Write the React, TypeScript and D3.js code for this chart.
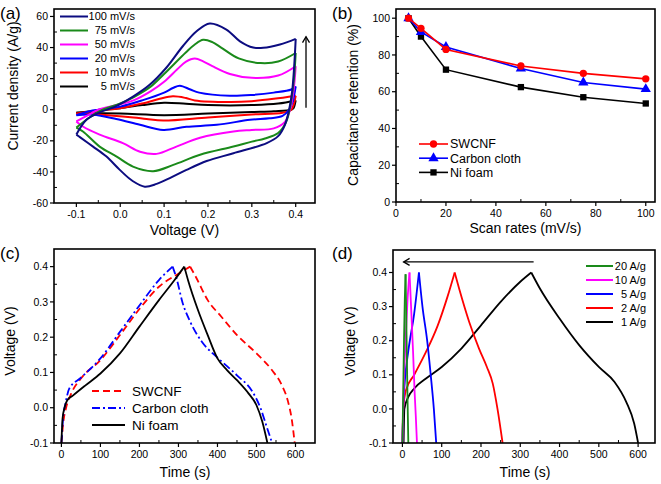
import React from "react";
import * as d3 from "d3";

type Pt = [number, number];
const FONT = "'Liberation Sans', Arial, sans-serif";

// ---------- Panel (a): CV curves ----------
const cvRates = ["100 mV/s", "75 mV/s", "50 mV/s", "20 mV/s", "10 mV/s", "5 mV/s"];
const cv100Anodic: Pt[] = [[-0.1, -16], [-0.077, -6.5], [-0.047, -1.7], [-0.012, 2], [0.03, 8.6], [0.067, 16], [0.105, 27], [0.143, 41], [0.174, 50.5], [0.204, 55.5], [0.242, 51.6], [0.273, 44], [0.303, 40], [0.326, 39.8], [0.364, 42], [0.4, 45.6]];
const cv100Cathodic: Pt[] = [[0.4, 45.6], [0.397, 30], [0.392, 12], [0.385, 0], [0.375, -10], [0.36, -17], [0.334, -21.5], [0.258, -28], [0.197, -33], [0.151, -38.7], [0.113, -44], [0.083, -47.7], [0.056, -49.5], [0.029, -46], [-0.001, -38.7], [-0.032, -30], [-0.062, -23.7], [-0.092, -17.6], [-0.1, -16]];
const cv75Anodic: Pt[] = [[-0.1, -11.5], [-0.07, -5], [-0.04, 0], [0.0, 4], [0.03, 8], [0.07, 15], [0.1, 23], [0.15, 37], [0.17, 42], [0.189, 45], [0.21, 43.5], [0.23, 40], [0.27, 33], [0.32, 30], [0.36, 31], [0.4, 36.5]];
const cv75Cathodic: Pt[] = [[0.4, 36.5], [0.396, 20], [0.388, 3], [0.378, -8], [0.36, -15], [0.33, -18.5], [0.3, -20.5], [0.258, -23.7], [0.182, -29], [0.121, -35.5], [0.075, -39.5], [0.029, -36.6], [-0.009, -30], [-0.047, -23.7], [-0.085, -14], [-0.1, -11.5]];
const cv50Anodic: Pt[] = [[-0.1, -7.5], [-0.07, -3], [-0.05, 0], [0.0, 3.5], [0.03, 6], [0.07, 12], [0.1, 18], [0.13, 26], [0.15, 31], [0.17, 33], [0.19, 31], [0.21, 28], [0.25, 23], [0.3, 20.5], [0.36, 22], [0.4, 28]];
const cv50Cathodic: Pt[] = [[0.4, 28], [0.395, 12], [0.387, 0], [0.375, -8], [0.35, -12], [0.3, -13], [0.258, -14], [0.182, -18], [0.128, -23.7], [0.083, -28.4], [0.045, -27], [0.006, -21.5], [-0.047, -16], [-0.085, -10.8], [-0.1, -7.5]];
const cv20Anodic: Pt[] = [[-0.1, -3.5], [-0.07, -1], [-0.05, 0], [0.0, 2], [0.05, 6], [0.1, 11], [0.12, 14], [0.136, 15.5], [0.16, 13], [0.18, 11], [0.25, 9], [0.3, 9.5], [0.35, 11], [0.39, 13], [0.4, 15]];
const cv20Cathodic: Pt[] = [[0.4, 15], [0.393, 5], [0.385, 0], [0.37, -4], [0.34, -5.5], [0.296, -6.5], [0.22, -9.7], [0.151, -11], [0.098, -13], [0.045, -9.7], [-0.009, -6], [-0.062, -3.2], [-0.1, -3.5]];
const cv10Anodic: Pt[] = [[-0.1, -2.5], [-0.05, -0.5], [0.0, 1], [0.05, 4], [0.09, 7], [0.12, 8.6], [0.15, 7.5], [0.17, 6], [0.25, 5], [0.3, 5.5], [0.35, 7], [0.4, 9]];
const cv10Cathodic: Pt[] = [[0.4, 9], [0.395, 3], [0.39, 0], [0.37, -2], [0.3, -3], [0.2, -5], [0.098, -7], [0.06, -6], [0.03, -5], [-0.05, -3], [-0.1, -2.5]];
const cv5Anodic: Pt[] = [[-0.1, -2], [-0.05, -0.5], [0.0, 1], [0.05, 3], [0.1, 4.5], [0.15, 3.8], [0.2, 3], [0.3, 3], [0.36, 4], [0.4, 6]];
const cv5Cathodic: Pt[] = [[0.4, 6], [0.395, 1], [0.39, 0], [0.35, -1], [0.3, -1.5], [0.2, -2.5], [0.1, -3.5], [0.0, -2.5], [-0.1, -2]];
const cvSeries: Pt[][][] = [
  [cv100Anodic, cv100Cathodic],
  [cv75Anodic, cv75Cathodic],
  [cv50Anodic, cv50Cathodic],
  [cv20Anodic, cv20Cathodic],
  [cv10Anodic, cv10Cathodic],
  [cv5Anodic, cv5Cathodic],
];
const cvColors = ["#0c0c80", "#1a8a1a", "#ff00ff", "#0000ff", "#ff0000", "#000000"];
const aXTicks = [-0.1, 0, 0.1, 0.2, 0.3, 0.4];
const aXMinor = [-0.05, 0.05, 0.15, 0.25, 0.35];
const aYTicks = [-60, -40, -20, 0, 20, 40, 60];
const aYMinor = [-50, -30, -10, 10, 30, 50];
const aArrowV = 0.4235;
const aArrowI: [number, number] = [1.3, 47];

// ---------- Panel (b): retention ----------
const scanRates = [5, 10, 20, 50, 75, 100];
const retSWCNF = [100, 94.5, 83, 74, 70, 67];
const retCarbon = [100, 92.5, 84.3, 72.6, 65, 61.4];
const retNi = [100, 90, 72, 62.5, 57, 53.6];
const bNames = ["SWCNF", "Carbon cloth", "Ni foam"];
const bXTicks = [0, 20, 40, 60, 80, 100];
const bXMinor = [10, 30, 50, 70, 90];
const bYTicks = [0, 20, 40, 60, 80, 100];
const bYMinor = [10, 30, 50, 70, 90];

// ---------- Panel (c): GCD of substrates ----------
const gcdSWCNF: Pt[] = [[0, -0.1], [5, -0.04], [12, 0.0], [25, 0.04], [50, 0.083], [100, 0.135], [150, 0.206], [200, 0.28], [250, 0.343], [300, 0.38], [330, 0.4], [345, 0.37], [375, 0.305], [410, 0.258], [450, 0.206], [500, 0.154], [540, 0.106], [565, 0.064], [580, 0.021], [590, -0.03], [598, -0.1]];
const gcdCarbon: Pt[] = [[0, -0.1], [5, -0.02], [10, 0.01], [20, 0.054], [50, 0.085], [100, 0.14], [150, 0.215], [200, 0.29], [250, 0.362], [285, 0.4], [295, 0.367], [310, 0.3], [330, 0.244], [360, 0.187], [400, 0.142], [450, 0.092], [490, 0.045], [510, 0.0], [525, -0.05], [540, -0.1]];
const gcdNi: Pt[] = [[0, -0.1], [3, -0.03], [8, 0.0], [15, 0.021], [30, 0.035], [60, 0.062], [100, 0.097], [150, 0.154], [200, 0.23], [250, 0.305], [290, 0.362], [315, 0.4], [325, 0.36], [350, 0.277], [375, 0.206], [400, 0.14], [425, 0.106], [450, 0.078], [480, 0.04], [500, 0.007], [515, -0.04], [528, -0.1]];
const cNames = ["SWCNF", "Carbon cloth", "Ni foam"];
const tTicks = [0, 100, 200, 300, 400, 500, 600];
const tMinor = [50, 150, 250, 350, 450, 550];
const vTicks = [-0.1, 0, 0.1, 0.2, 0.3, 0.4];
const vMinor = [-0.05, 0.05, 0.15, 0.25, 0.35];

// ---------- Panel (d): GCD at current densities ----------
const dNames = ["20 A/g", "10 A/g", "5 A/g", "2 A/g", "1 A/g"];
const gcd20: Pt[] = [[0, -0.1], [2, 0.05], [4, 0.2], [6, 0.32], [8, 0.395], [10, 0.25], [12, 0.1], [13, 0.03], [15, -0.1]];
const gcd10: Pt[] = [[0, -0.1], [3, 0.05], [8, 0.2], [13, 0.32], [18, 0.4], [22, 0.3], [27, 0.17], [31, 0.05], [34, -0.02], [37, -0.1]];
const gcd5: Pt[] = [[0, -0.1], [2, 0.0], [6, 0.08], [15, 0.17], [30, 0.28], [42, 0.4], [51, 0.3], [63, 0.2], [72, 0.1], [80, 0.0], [86, -0.1]];
const gcd2: Pt[] = [[0, -0.1], [2, 0.0], [9, 0.055], [30, 0.1], [60, 0.167], [90, 0.245], [115, 0.33], [133, 0.4], [145, 0.35], [170, 0.255], [195, 0.177], [215, 0.123], [230, 0.074], [242, 0.0], [255, -0.1]];
const gcd1: Pt[] = [[3, -0.1], [5, 0.0], [15, 0.035], [30, 0.06], [60, 0.089], [100, 0.123], [150, 0.177], [200, 0.245], [250, 0.314], [300, 0.373], [328, 0.4], [350, 0.353], [400, 0.265], [450, 0.187], [500, 0.123], [540, 0.079], [570, 0.02], [590, -0.043], [600, -0.1]];
const dSeries = [gcd20, gcd10, gcd5, gcd2, gcd1];
const dColors = ["#1a8a1a", "#ff00ff", "#0000ff", "#ff0000", "#000000"];
const dArrowT: [number, number] = [334, 3];
const dArrowV = 0.431;

// ---------- scales ----------
const xA = d3.scaleLinear().domain([-0.151, 0.444]).range([54, 315]);
const yA = d3.scaleLinear().domain([-60, 64.8]).range([203, 9]);
const xB = d3.scaleLinear().domain([0, 103.7]).range([396, 655]);
const yB = d3.scaleLinear().domain([0, 105]).range([202, 9]);
const xC = d3.scaleLinear().domain([-19, 650]).range([54, 315]);
const yC = d3.scaleLinear().domain([-0.1, 0.45]).range([443, 249]);
const xD = d3.scaleLinear().domain([-24, 643]).range([393, 655]);
const yD = d3.scaleLinear().domain([-0.1, 0.466]).range([443, 250]);

type Scale = d3.ScaleLinear<number, number>;

function Frame(props: {
  xs: Scale; ys: Scale; xTicks: number[]; xMinor: number[]; yTicks: number[]; yMinor: number[];
  fx: (v: number) => string; fy: (v: number) => string;
}) {
  const { xs, ys, xTicks, xMinor, yTicks, yMinor, fx, fy } = props;
  const [x0, x1] = xs.range();
  const [y0, y1] = ys.range();
  return (
    <g fontFamily={FONT} fontSize={10.5} fill="#000">
      {xTicks.map((t, i) => (
        <g key={"xt" + i}>
          <line x1={xs(t)} x2={xs(t)} y1={y0} y2={y0 + 4} stroke="#000" strokeWidth={1.2} />
          <text x={xs(t)} y={y0 + 15} textAnchor="middle">{fx(t)}</text>
        </g>
      ))}
      {xMinor.map((t, i) => (
        <line key={"xm" + i} x1={xs(t)} x2={xs(t)} y1={y0} y2={y0 - 3} stroke="#000" strokeWidth={1} />
      ))}
      {yTicks.map((t, i) => (
        <g key={"yt" + i}>
          <line x1={x0 - 4} x2={x0} y1={ys(t)} y2={ys(t)} stroke="#000" strokeWidth={1.2} />
          <text x={x0 - 6} y={ys(t)} dy="0.35em" textAnchor="end">{fy(t)}</text>
        </g>
      ))}
      {yMinor.map((t, i) => (
        <line key={"ym" + i} x1={x0} x2={x0 + 3} y1={ys(t)} y2={ys(t)} stroke="#000" strokeWidth={1} />
      ))}
      <rect x={x0} y={y1} width={x1 - x0} height={y0 - y1} fill="none" stroke="#000" strokeWidth={1.6} />
    </g>
  );
}

function ClipDef({ id, xs, ys }: { id: string; xs: Scale; ys: Scale }) {
  const [x0, x1] = xs.range();
  const [y0, y1] = ys.range();
  return (
    <clipPath id={id}>
      <rect x={x0} y={y1} width={x1 - x0} height={y0 - y1} />
    </clipPath>
  );
}

function splitAtPeak(pts: Pt[]): [Pt[], Pt[]] {
  let k = 0;
  pts.forEach((p, i) => { if (p[1] > pts[k][1]) k = i; });
  return [pts.slice(0, k + 1), pts.slice(k)];
}

export default function App() {
  const lineA = d3.line<Pt>().x(d => xA(d[0])).y(d => yA(d[1])).curve(d3.curveCatmullRom.alpha(0.5));
  const lineC = d3.line<Pt>().x(d => xC(d[0])).y(d => yC(d[1])).curve(d3.curveMonotoneX);
  const lineD = d3.line<Pt>().x(d => xD(d[0])).y(d => yD(d[1])).curve(d3.curveMonotoneX);
  const lineB = d3.line<Pt>().x(d => xB(d[0])).y(d => yB(d[1]));

  const bSeries = [retSWCNF, retCarbon, retNi];
  const bColors = ["#ff0000", "#0000ff", "#000000"];
  const bSymbols = [d3.symbolCircle, d3.symbolTriangle, d3.symbolSquare];
  const bSizes = [42, 46, 40];

  const cSeries = [gcdSWCNF, gcdCarbon, gcdNi];
  const cColors = ["#ff0000", "#0000ff", "#000000"];
  const cDash = ["7,4", "8,3,2,3", "none"];

  const f1 = (v: number) => v.toFixed(1);
  const f0 = (v: number) => String(v);

  const arrowHead = (x: number, y: number, dir: "up" | "left") => {
    const s = 6;
    if (dir === "up") return `M${x - 3.5},${y + s} L${x},${y} L${x + 3.5},${y + s}`;
    return `M${x + s},${y - 3.5} L${x},${y} L${x + s},${y + 3.5}`;
  };

  return (
    <svg width={661} height={484} style={{ position: "absolute", left: 0, top: 0 }} fontFamily={FONT}>
      <rect width={661} height={484} fill="#fff" />
      <defs>
        <ClipDef id="clipA" xs={xA} ys={yA} />
        <ClipDef id="clipC" xs={xC} ys={yC} />
        <ClipDef id="clipD" xs={xD} ys={yD} />
      </defs>

      {/* ---------- (a) ---------- */}
      <g clipPath="url(#clipA)">
        {cvSeries.slice().reverse().map((branches, ri) => {
          const i = cvSeries.length - 1 - ri;
          return branches.map((b, j) => (
            <path key={`cv${i}-${j}`} d={lineA(b) || ""} fill="none" stroke={cvColors[i]} strokeWidth={2} />
          ));
        })}
      </g>
      <Frame xs={xA} ys={yA} xTicks={aXTicks} xMinor={aXMinor} yTicks={aYTicks} yMinor={aYMinor} fx={f1} fy={f0} />
      {cvRates.map((r, i) => (
        <g key={"la" + i}>
          <line x1={60} x2={88} y1={16.5 + 14 * i} y2={16.5 + 14 * i} stroke={cvColors[i]} strokeWidth={2} />
          <text x={135} y={16.5 + 14 * i} dy="0.35em" textAnchor="end" fontSize={11}>{r}</text>
        </g>
      ))}
      <line x1={xA(aArrowV)} x2={xA(aArrowV)} y1={yA(aArrowI[0])} y2={yA(aArrowI[1])} stroke="#000" strokeWidth={1.3} />
      <path d={arrowHead(xA(aArrowV), yA(aArrowI[1]), "up")} fill="none" stroke="#000" strokeWidth={1.3} />
      <text x={184.5} y={235} textAnchor="middle" fontSize={14}>Voltage (V)</text>
      <text transform="translate(13.5,86) rotate(-90)" textAnchor="middle" dy="0.35em" fontSize={14}>Current density (A/g)</text>
      <text x={0} y={19} fontSize={17}>(a)</text>

      {/* ---------- (b) ---------- */}
      {bSeries.map((vals, i) => {
        const pts: Pt[] = scanRates.map((s, k) => [s, vals[k]]);
        return (
          <g key={"b" + i}>
            <path d={lineB(pts) || ""} fill="none" stroke={bColors[i]} strokeWidth={1.6} />
            {pts.map((p, k) => (
              <path key={k} transform={`translate(${xB(p[0])},${yB(p[1])})`} d={d3.symbol(bSymbols[i], bSizes[i])() || ""} fill={bColors[i]} />
            ))}
          </g>
        );
      }).reverse()}
      <Frame xs={xB} ys={yB} xTicks={bXTicks} xMinor={bXMinor} yTicks={bYTicks} yMinor={bYMinor} fx={f0} fy={f0} />
      {bNames.map((n, i) => {
        const yy = 144 + 14.2 * i;
        return (
          <g key={"lb" + i}>
            <line x1={419} x2={448} y1={yy} y2={yy} stroke={bColors[i]} strokeWidth={1.6} />
            <path transform={`translate(433.5,${yy})`} d={d3.symbol(bSymbols[i], bSizes[i])() || ""} fill={bColors[i]} />
            <text x={450} y={yy} dy="0.35em" fontSize={12.5}>{n}</text>
          </g>
        );
      })}
      <text x={525.5} y={233} textAnchor="middle" fontSize={14}>Scan rates (mV/s)</text>
      <text transform="translate(353,105) rotate(-90)" textAnchor="middle" dy="0.35em" fontSize={14}>Capacitance retention (%)</text>
      <text x={332} y={19} fontSize={17}>(b)</text>

      {/* ---------- (c) ---------- */}
      <g clipPath="url(#clipC)">
        {cSeries.map((pts, i) => {
          const [ch, dis] = splitAtPeak(pts);
          return (
            <g key={"c" + i}>
              <path d={lineC(ch) || ""} fill="none" stroke={cColors[i]} strokeWidth={1.8} strokeDasharray={cDash[i]} />
              <path d={lineC(dis) || ""} fill="none" stroke={cColors[i]} strokeWidth={1.8} strokeDasharray={cDash[i]} />
            </g>
          );
        })}
      </g>
      <Frame xs={xC} ys={yC} xTicks={tTicks} xMinor={tMinor} yTicks={vTicks} yMinor={vMinor} fx={f0} fy={f1} />
      {cNames.map((n, i) => {
        const yy = 391 + 17 * i;
        return (
          <g key={"lc" + i}>
            <line x1={92} x2={125} y1={yy} y2={yy} stroke={cColors[i]} strokeWidth={1.8} strokeDasharray={cDash[i]} />
            <text x={132} y={yy} dy="0.35em" fontSize={13.5}>{n}</text>
          </g>
        );
      })}
      <text x={185} y={477} textAnchor="middle" fontSize={14}>Time (s)</text>
      <text transform="translate(10,341) rotate(-90)" textAnchor="middle" dy="0.35em" fontSize={14}>Voltage (V)</text>
      <text x={0} y={259} fontSize={17}>(c)</text>

      {/* ---------- (d) ---------- */}
      <g clipPath="url(#clipD)">
        {dSeries.slice().reverse().map((pts, ri) => {
          const i = dSeries.length - 1 - ri;
          const [ch, dis] = splitAtPeak(pts);
          return (
            <g key={"d" + i}>
              <path d={lineD(ch) || ""} fill="none" stroke={dColors[i]} strokeWidth={1.8} />
              <path d={lineD(dis) || ""} fill="none" stroke={dColors[i]} strokeWidth={1.8} />
            </g>
          );
        })}
      </g>
      <Frame xs={xD} ys={yD} xTicks={tTicks} xMinor={tMinor} yTicks={vTicks} yMinor={vMinor} fx={f0} fy={f1} />
      {dNames.map((n, i) => {
        const yy = 266 + 14 * i;
        return (
          <g key={"ld" + i}>
            <line x1={586} x2={613} y1={yy} y2={yy} stroke={dColors[i]} strokeWidth={2} />
            <text x={646} y={yy} dy="0.35em" textAnchor="end" fontSize={11}>{n}</text>
          </g>
        );
      })}
      <line x1={xD(dArrowT[0])} x2={xD(dArrowT[1])} y1={yD(dArrowV)} y2={yD(dArrowV)} stroke="#000" strokeWidth={1.3} />
      <path d={arrowHead(xD(dArrowT[1]), yD(dArrowV), "left")} fill="none" stroke="#000" strokeWidth={1.3} />
      <text x={525} y={477} textAnchor="middle" fontSize={14}>Time (s)</text>
      <text transform="translate(350.5,341) rotate(-90)" textAnchor="middle" dy="0.35em" fontSize={14}>Voltage (V)</text>
      <text x={332} y={259} fontSize={17}>(d)</text>
    </svg>
  );
}
